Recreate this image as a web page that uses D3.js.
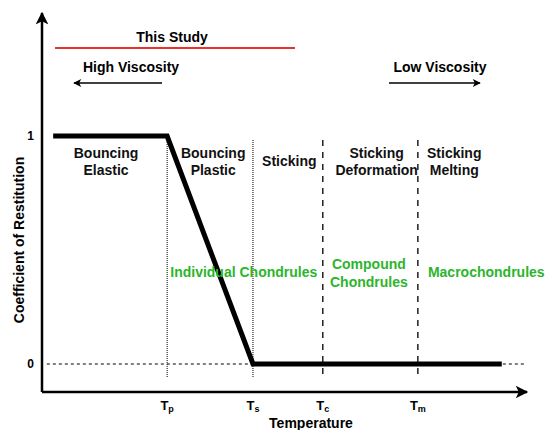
<!DOCTYPE html>
<html lang="en">
<head>
<meta charset="UTF-8">
<title>Coefficient of Restitution vs Temperature</title>
<script src="https://d3js.org/d3.v7.min.js"></script>
<style>
    body { margin: 0; background: #fff; }
    svg { display: block; font-family: "Liberation Sans", Arial, sans-serif; font-weight: bold; }
</style>
</head>
<body>
<svg id="chart" width="547" height="430"></svg>
<script>
// temperature positions (arbitrary units) of the regime boundaries
const tickNames = ["p", "s", "c", "m"];
const tickValues = [2.58, 4.35, 5.79, 7.75];
const boundaryStyle = ["dotted", "dotted", "dashed", "dashed"];

// coefficient of restitution curve
const curveT = [0.23, 2.58, 4.35, 9.48];
const curveE = [1, 1, 0, 0];

// regime labels (centre temperature, lines)
const regimeT = [1.32, 3.53, 5.1, 6.9, 8.5];
const regimeLines = [["Bouncing", "Elastic"], ["Bouncing", "Plastic"], ["Sticking"], ["Sticking", "Deformation"], ["Sticking", "Melting"]];

// product labels
const productT = [4.16, 6.74, 9.16];
const productLines = [["Individual Chondrules"], ["Compound", "Chondrules"], ["Macrochondrules"]];

const yTicks = [0, 1];

const svg = d3.select("#chart");

const x = d3.scaleLinear().domain([0, 10]).range([42, 527]);
const y = d3.scaleLinear().domain([0, 1]).range([364, 136]);

const defs = svg.append("defs");
defs.append("marker")
    .attr("id", "arrow")
    .attr("viewBox", "0 0 10 10")
    .attr("refX", 9).attr("refY", 5)
    .attr("markerWidth", 5.5).attr("markerHeight", 5)
    .attr("markerUnits", "strokeWidth")
    .attr("orient", "auto")
    .append("path")
    .attr("d", "M0,0 L10,5 L0,10 L2.5,5 Z")
    .attr("fill", "#000");

// axes
svg.append("line")
    .attr("x1", x(0)).attr("y1", 392)
    .attr("x2", x(0)).attr("y2", 13)
    .attr("stroke", "#000").attr("stroke-width", 2.5)
    .attr("marker-end", "url(#arrow)");
svg.append("line")
    .attr("x1", x(0)).attr("y1", 392)
    .attr("x2", x(10)).attr("y2", 392)
    .attr("stroke", "#000").attr("stroke-width", 2.5)
    .attr("marker-end", "url(#arrow)");

// zero reference line
svg.append("line")
    .attr("x1", x(0.1)).attr("x2", x(9.95))
    .attr("y1", y(0)).attr("y2", y(0))
    .attr("stroke", "#000").attr("stroke-width", 1.2)
    .attr("stroke-dasharray", "3,3");

// regime boundaries
tickValues.forEach(function(t, i) {
    svg.append("line")
        .attr("x1", x(t)).attr("x2", x(t))
        .attr("y1", y(1) + 4).attr("y2", 378)
        .attr("stroke", "#000")
        .attr("stroke-width", boundaryStyle[i] === "dotted" ? 1 : 1.3)
        .attr("stroke-dasharray", boundaryStyle[i] === "dotted" ? "1,1" : "6,6");
});

// curve
const line = d3.line().x((d, i) => x(curveT[i])).y(d => y(d));
svg.append("path")
    .datum(curveE)
    .attr("d", line)
    .attr("fill", "none")
    .attr("stroke", "#000")
    .attr("stroke-width", 5)
    .attr("stroke-linejoin", "miter");

// y tick labels
svg.selectAll(".ytick")
    .data(yTicks)
    .enter().append("text")
    .attr("class", "ytick")
    .attr("x", 34).attr("y", d => y(d) + 4)
    .attr("text-anchor", "end")
    .attr("font-size", 12)
    .text(d => d);

// x tick labels
tickValues.forEach(function(t, i) {
    const tx = svg.append("text")
        .attr("x", x(t)).attr("y", 410)
        .attr("text-anchor", "middle")
        .attr("font-size", 13);
    tx.append("tspan").text("T");
    tx.append("tspan").attr("font-size", 9).attr("dy", 2).text(tickNames[i]);
});

// axis titles
svg.append("text")
    .attr("x", 311).attr("y", 428)
    .attr("text-anchor", "middle")
    .attr("font-size", 14)
    .text("Temperature");
svg.append("text")
    .attr("transform", "translate(24," + 240 + ") rotate(-90)")
    .attr("text-anchor", "middle")
    .attr("font-size", 14)
    .text("Coefficient of Restitution");

// regime labels
regimeLines.forEach(function(lines, i) {
    const top = lines.length === 1 ? 166 : 158;
    lines.forEach(function(s, j) {
        svg.append("text")
            .attr("x", x(regimeT[i])).attr("y", top + j * 17)
            .attr("text-anchor", "middle")
            .attr("font-size", 14)
            .attr("fill", "#111")
            .text(s);
    });
});

// product labels
productLines.forEach(function(lines, i) {
    const top = lines.length === 1 ? 277 : 269;
    lines.forEach(function(s, j) {
        svg.append("text")
            .attr("x", x(productT[i])).attr("y", top + j * 18)
            .attr("text-anchor", "middle")
            .attr("font-size", 14)
            .attr("fill", "#2bb52b")
            .text(s);
    });
});

// viscosity arrows
svg.append("text")
    .attr("x", 172).attr("y", 42)
    .attr("text-anchor", "middle").attr("font-size", 14)
    .text("This Study");
svg.append("line")
    .attr("x1", 55).attr("x2", 295).attr("y1", 48).attr("y2", 48)
    .attr("stroke", "#e8332a").attr("stroke-width", 2.2);

svg.append("text")
    .attr("x", 131).attr("y", 72)
    .attr("text-anchor", "middle").attr("font-size", 14)
    .text("High Viscosity");
svg.append("line")
    .attr("x1", 162).attr("x2", 74).attr("y1", 83).attr("y2", 83)
    .attr("stroke", "#000").attr("stroke-width", 1.6)
    .attr("marker-end", "url(#arrow)");

svg.append("text")
    .attr("x", 440).attr("y", 72)
    .attr("text-anchor", "middle").attr("font-size", 14)
    .text("Low Viscosity");
svg.append("line")
    .attr("x1", 389).attr("x2", 480).attr("y1", 83).attr("y2", 83)
    .attr("stroke", "#000").attr("stroke-width", 1.6)
    .attr("marker-end", "url(#arrow)");
</script>
</body>
</html>
